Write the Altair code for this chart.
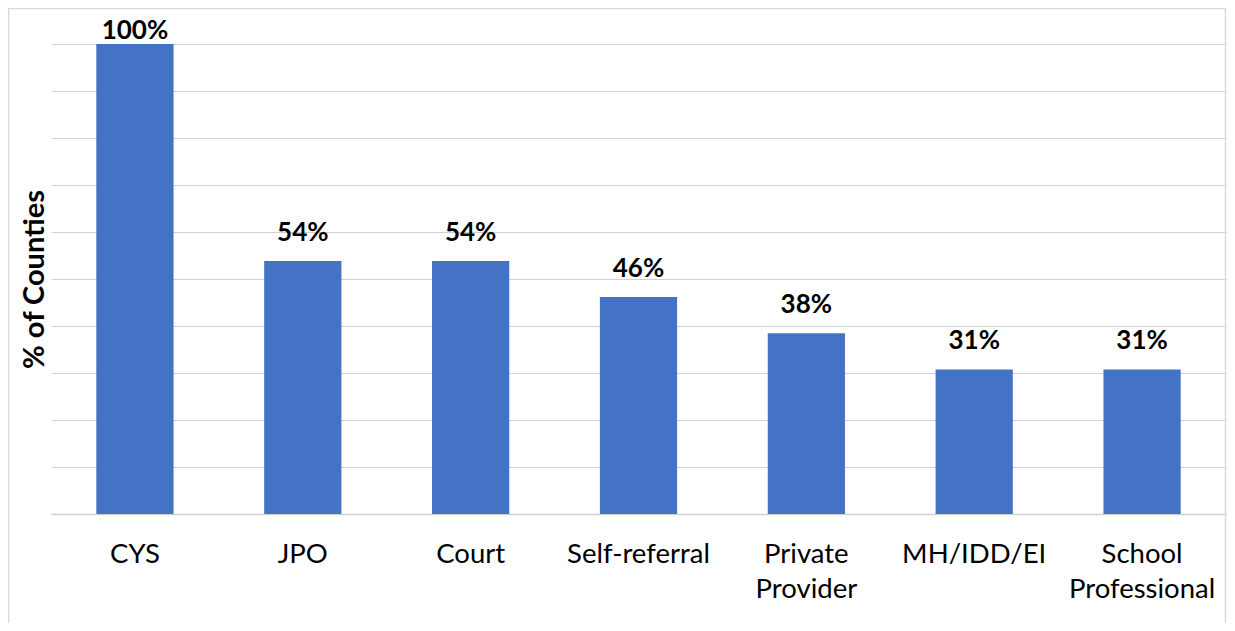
import altair as alt
import pandas as pd

categories = ["CYS", "JPO", "Court", "Self-referral", "Private Provider", "MH/IDD/EI", "School Professional"]
values = [100, 53.85, 53.85, 46.15, 38.46, 30.77, 30.77]
y_ticks = [0, 10, 20, 30, 40, 50, 60, 70, 80, 90, 100]

df = pd.DataFrame({"category": categories, "value": values})

W, H = 1175, 470
FONT = "Lato"

x_enc = alt.X(
    "category:N",
    sort=categories,
    title=None,
    scale=alt.Scale(paddingInner=0.54, paddingOuter=0.27),
    axis=alt.Axis(
        labelAngle=0,
        labelFont=FONT,
        labelFontSize=27.5,
        labelColor="#000000",
        labelPadding=26,
        labelBaseline="top",
        labelLineHeight=35,
        labelExpr="split(datum.label, ' ')",
        ticks=False,
        domainColor="#d0d0d0",
        domainWidth=1.5,
    ),
)

y_axis = alt.Axis(
    values=y_ticks,
    labels=False,
    ticks=False,
    domain=False,
    grid=True,
    gridColor="#d0d0d0",
    gridWidth=1,
    title="% of Counties",
    titleFont=FONT,
    titleFontSize=29,
    titleFontWeight="bold",
    titleColor="#000000",
    titlePadding=2,
)
y_scale = alt.Scale(domain=[0, 100])

bars = alt.Chart(df).mark_bar(color="#4472C4").encode(
    x=x_enc,
    y=alt.Y("value:Q", scale=y_scale, axis=y_axis),
)

labels = (
    alt.Chart(df)
    .transform_calculate(
        ly="datum.value >= 100 ? datum.value + 1.06 : datum.value + 4.26",
        label="round(datum.value) + '%'",
    )
    .mark_text(font=FONT, fontSize=26, fontWeight="bold", color="#000000", baseline="alphabetic")
    .encode(
        x=x_enc,
        y=alt.Y("ly:Q", scale=y_scale, axis=y_axis),
        text="label:N",
    )
)

border = (
    alt.Chart(pd.DataFrame({"b": [0]}))
    .mark_rect(fill=None, stroke="#d9d9d9", strokeWidth=1.5)
    .encode(
        x=alt.value(-42.5),
        x2=alt.value(W - 0.5),
        y=alt.value(-35.5),
        y2=alt.value(H + 200),
    )
)

chart = (
    alt.layer(bars, labels, border)
    .properties(
        width=W,
        height=H,
        autosize=alt.AutoSizeParams(type="none"),
        padding={"left": 43, "top": 36, "right": 1, "bottom": 109},
        background="white",
    )
    .configure_view(stroke=None)
)

chart.save("out.html", embed_options={"renderer": "svg", "actions": False})
